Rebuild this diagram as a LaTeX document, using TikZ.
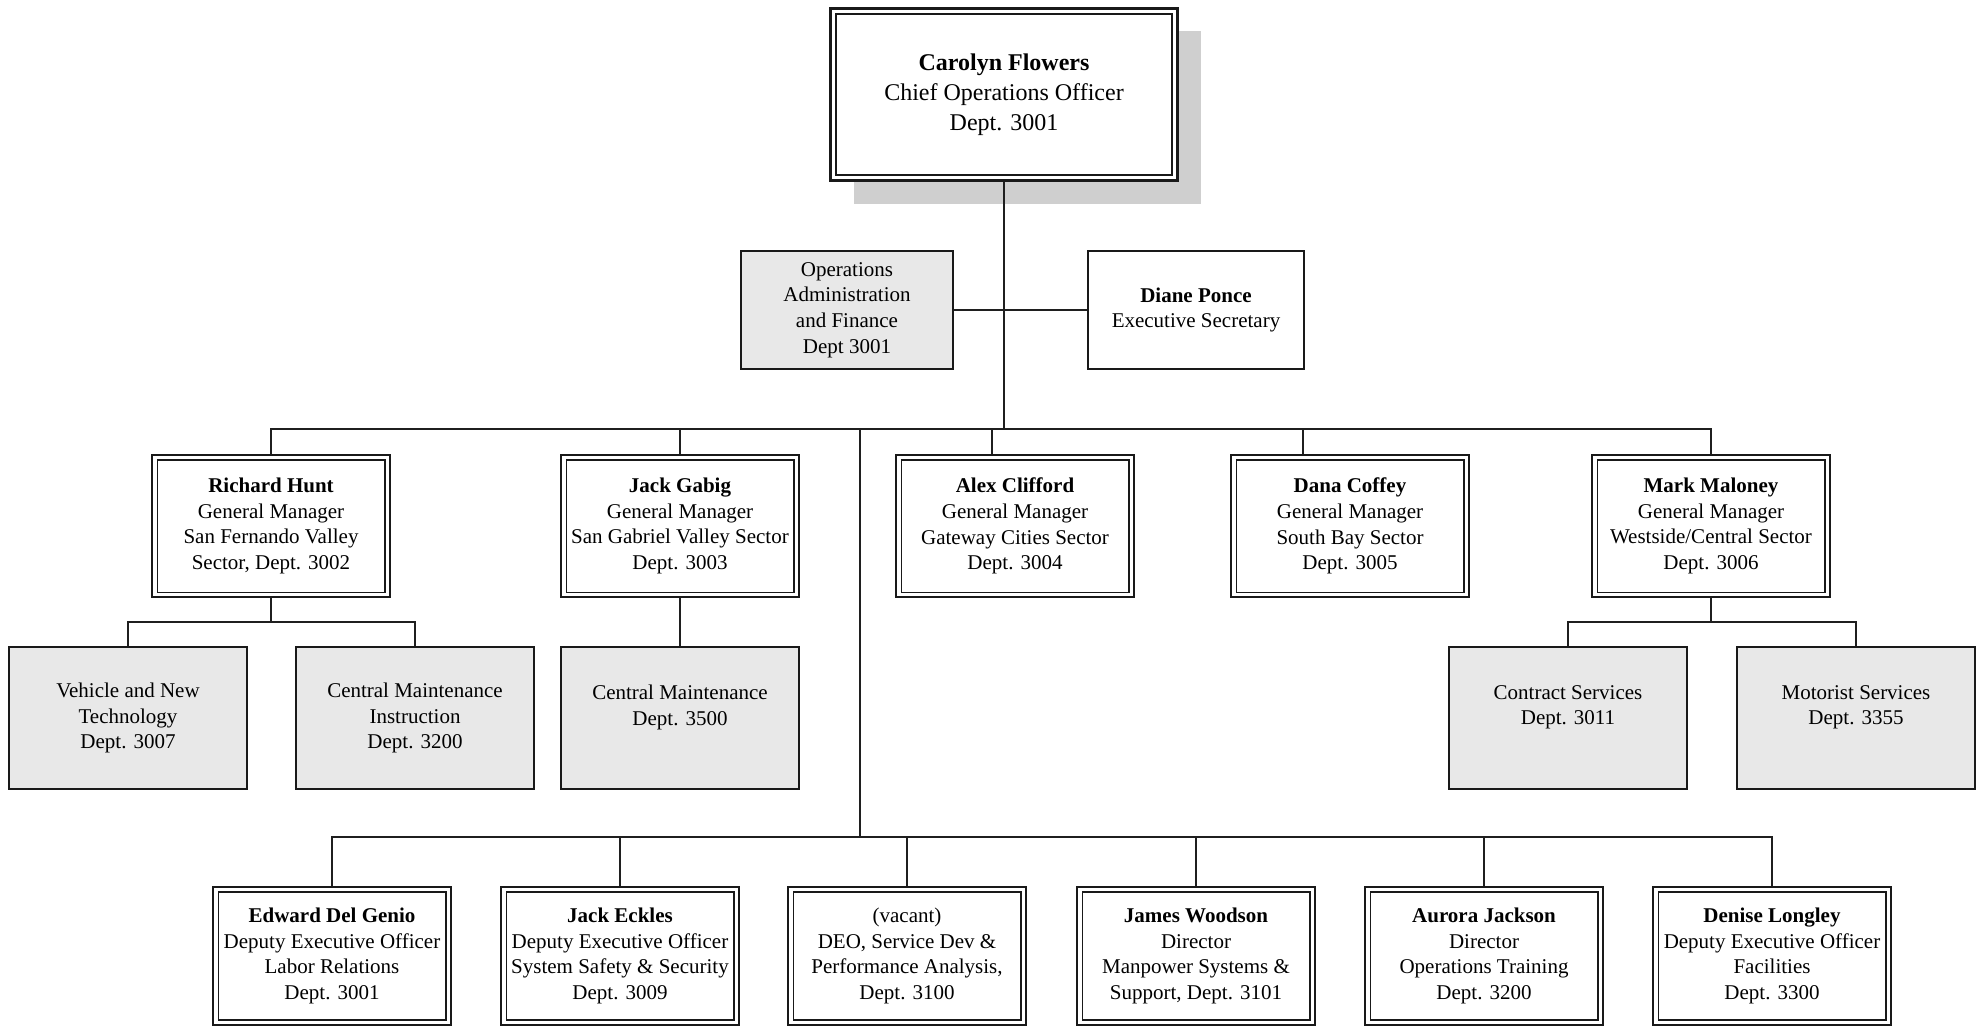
\documentclass[tikz,border=0pt]{standalone}
\usepackage{fontspec}
\setmainfont{Liberation Serif}
\usetikzlibrary{shadows}
\tikzset{
  conn/.style={line width=2pt, draw=black!88},
  boxfont/.style={font=\fontsize{21}{25.7}\selectfont},
  dbox/.style={rectangle, draw=black!90, line width=2.4pt, fill=white,
    minimum width=237.5pt, minimum height=142.5pt, inner sep=0pt, align=center, boxfont,
    path picture={\draw[line width=1.5pt, black!90]
      ([shift={(5pt,-5pt)}]path picture bounding box.north west) rectangle
      ([shift={(-5pt,5pt)}]path picture bounding box.south east);}},
  gbox/.style={rectangle, draw=black!90, line width=2pt, fill=black!9,
    minimum width=238pt, minimum height=142pt, inner sep=0pt, align=center, boxfont},
  wbox/.style={rectangle, draw=black!90, line width=2pt, fill=white,
    minimum width=216pt, minimum height=118pt, inner sep=0pt, align=center, boxfont},
  topbox/.style={rectangle, draw=black!90, line width=2.6pt, fill=white,
    minimum width=347.5pt, minimum height=172.5pt, inner sep=0pt, align=center,
    font=\fontsize{24}{29.8}\selectfont,
    drop shadow={shadow xshift=23.5pt, shadow yshift=-23pt, fill=black!19, opacity=1},
    path picture={\draw[line width=1.6pt, black!90]
      ([shift={(5.5pt,-5.5pt)}]path picture bounding box.north west) rectangle
      ([shift={(-5.5pt,5.5pt)}]path picture bounding box.south east);}},
}
\begin{document}
\begin{tikzpicture}[x=1pt,y=-1pt]
\useasboundingbox (0,0) rectangle (1986,1028);

% top
\node[topbox] (ceo) at (1004,94.5) {\textbf{Carolyn Flowers}\\Chief Operations Officer\\Dept. 3001};
\node[gbox, minimum width=212pt, minimum height=118pt] (ops) at (847,310)
  {Operations\\Administration\\and Finance\\Dept 3001};
\node[wbox] (diane) at (1196,310) {\textbf{Diane Ponce}\\Executive Secretary};

% row 2
\node[dbox] (rh) at (271,526) {\textbf{Richard Hunt}\\General Manager\\San Fernando Valley\\Sector, Dept. 3002};
\node[dbox] (jg) at (680,526) {\textbf{Jack Gabig}\\General Manager\\San Gabriel Valley Sector\\Dept. 3003};
\node[dbox] (ac) at (1015,526) {\textbf{Alex Clifford}\\General Manager\\Gateway Cities Sector\\Dept. 3004};
\node[dbox] (dc) at (1350,526) {\textbf{Dana Coffey}\\General Manager\\South Bay Sector\\Dept. 3005};
\node[dbox] (mm) at (1711,526) {\textbf{Mark Maloney}\\General Manager\\Westside/Central Sector\\Dept. 3006};

% row 3
\node[gbox] (veh) at (128,718) {Vehicle and New\\Technology\\Dept. 3007};
\node[gbox] (cmi) at (415,718) {Central Maintenance\\Instruction\\Dept. 3200};
\node[gbox] (cm) at (680,718) {Central Maintenance\\Dept. 3500\\\phantom{X}};
\node[gbox] (cs) at (1568,718) {Contract Services\\Dept. 3011\\\phantom{X}};
\node[gbox] (ms) at (1856,718) {Motorist Services\\Dept. 3355\\\phantom{X}};

% row 4
\node[dbox, minimum height=138pt] (ed) at (332,956) {\textbf{Edward Del Genio}\\Deputy Executive Officer\\Labor Relations\\Dept. 3001};
\node[dbox, minimum height=138pt] (je) at (620,956) {\textbf{Jack Eckles}\\Deputy Executive Officer\\System Safety \& Security\\Dept. 3009};
\node[dbox, minimum height=138pt] (vac) at (907,956) {(vacant)\\DEO, Service Dev \&\\Performance Analysis,\\Dept. 3100};
\node[dbox, minimum height=138pt] (jw) at (1196,956) {\textbf{James Woodson}\\Director\\Manpower Systems \&\\Support, Dept. 3101};
\node[dbox, minimum height=138pt] (aj) at (1484,956) {\textbf{Aurora Jackson}\\Director\\Operations Training\\Dept. 3200};
\node[dbox, minimum height=138pt] (dl) at (1772,956) {\textbf{Denise Longley}\\Deputy Executive Officer\\Facilities\\Dept. 3300};

% bus levels
\coordinate (b1) at (0,429);
\coordinate (b2) at (0,622);
\coordinate (b3) at (0,837);
\coordinate (trunk) at (860,429);

% connectors
\draw[conn] (ceo.south) -- (ceo.south |- b1);
\draw[conn] (ops.east) -- (diane.west);
\draw[conn] (rh.north) -- (rh.north |- b1) -- (mm.north |- b1) -- (mm.north);
\draw[conn] (jg.north) -- (jg.north |- b1);
\draw[conn] ([xshift=-23pt]ac.north) -- ([xshift=-23pt]ac.north |- b1);
\draw[conn] ([xshift=-47pt]dc.north) -- ([xshift=-47pt]dc.north |- b1);

\draw[conn] (rh.south) -- (rh.south |- b2);
\draw[conn] (veh.north) -- (veh.north |- b2) -- (cmi.north |- b2) -- (cmi.north);
\draw[conn] (jg.south) -- (cm.north);
\draw[conn] (mm.south) -- (mm.south |- b2);
\draw[conn] (cs.north) -- (cs.north |- b2) -- (ms.north |- b2) -- (ms.north);

\draw[conn] (trunk) -- (trunk |- b3);
\draw[conn] (ed.north) -- (ed.north |- b3) -- (dl.north |- b3) -- (dl.north);
\draw[conn] (je.north) -- (je.north |- b3);
\draw[conn] (vac.north) -- (vac.north |- b3);
\draw[conn] (jw.north) -- (jw.north |- b3);
\draw[conn] (aj.north) -- (aj.north |- b3);
\end{tikzpicture}
\end{document}
